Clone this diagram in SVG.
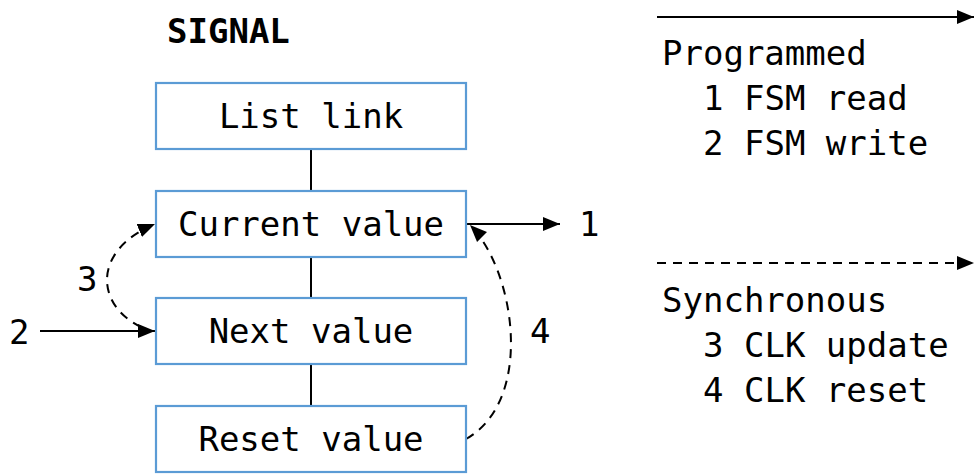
<svg xmlns="http://www.w3.org/2000/svg" width="974" height="474" viewBox="0 0 974 474">
<style>
.box{fill:#fff;stroke:#5b9bd5;stroke-width:2.2}
.t{font-family:"DejaVu Sans Mono","Liberation Mono",monospace;font-size:34px;fill:#000}
.c{text-anchor:middle}
.ln{stroke:#000;stroke-width:2;fill:none}
.d{stroke-dasharray:9 7}
</style>
<defs>
<marker id="ah" markerUnits="userSpaceOnUse" markerWidth="18" markerHeight="16" refX="17" refY="8" orient="auto">
<path d="M0,1 L17,8 L0,15 Z" fill="#000"/>
</marker>
</defs>
<rect width="974" height="474" fill="#fff"/>
<text class="t" x="167" y="43" font-weight="bold">SIGNAL</text>
<g id="connectors">
<line class="ln" x1="311" y1="149" x2="311" y2="191"/>
<line class="ln" x1="311" y1="257" x2="311" y2="298"/>
<line class="ln" x1="311" y1="364" x2="311" y2="406"/>
<line class="ln" x1="466" y1="224" x2="560" y2="224" marker-end="url(#ah)"/>
<line class="ln" x1="40" y1="331" x2="155" y2="331" marker-end="url(#ah)"/>
<path class="ln d" d="M141 327 C95 305, 92 250, 155 224" marker-end="url(#ah)"/>
<path class="ln d" d="M466 439 C535 400, 515 270, 470 225" marker-end="url(#ah)"/>
<text class="t" x="579" y="236">1</text>
<text class="t" x="9" y="344">2</text>
<text class="t" x="77" y="291">3</text>
<text class="t" x="530" y="343">4</text>
</g>
<g id="n-list">
<rect class="box" x="156" y="83" width="310" height="66"/>
<text class="t c" x="311" y="128">List link</text>
</g>
<g id="n-current">
<rect class="box" x="156" y="191" width="310" height="66"/>
<text class="t c" x="311" y="236">Current value</text>
</g>
<g id="n-next">
<rect class="box" x="156" y="298" width="310" height="66"/>
<text class="t c" x="311" y="343">Next value</text>
</g>
<g id="n-reset">
<rect class="box" x="156" y="406" width="310" height="66"/>
<text class="t c" x="311" y="451">Reset value</text>
</g>
<g id="legend">
<line class="ln" x1="657" y1="17" x2="974" y2="17" marker-end="url(#ah)"/>
<text class="t" x="662" y="65">Programmed</text>
<text class="t" x="703" y="110">1 FSM read</text>
<text class="t" x="703" y="155">2 FSM write</text>
<line class="ln d" x1="657" y1="263" x2="974" y2="263" marker-end="url(#ah)"/>
<text class="t" x="662" y="312">Synchronous</text>
<text class="t" x="703" y="357">3 CLK update</text>
<text class="t" x="703" y="402">4 CLK reset</text>
</g>
</svg>
